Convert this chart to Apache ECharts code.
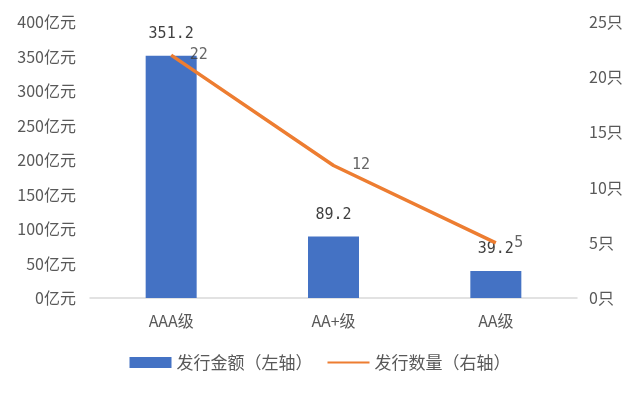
<!DOCTYPE html>
<html><head><meta charset="utf-8">
<script src="https://cdn.jsdelivr.net/npm/echarts@6/dist/echarts.min.js"></script>
<style>html,body{margin:0;padding:0;background:#fff}#c{width:640px;height:394px}</style>
</head><body><div id="c"></div>
<script>
const categories = ['AAA级', 'AA+级', 'AA级'];
const amountValues = [351.2, 89.2, 39.2];
const countValues = [22, 12, 5];
const leftTicks = [0, 400, 50];
const rightTicks = [0, 25, 5];

const chart = echarts.init(document.getElementById('c'), null, {renderer: 'canvas'});
const txt = '#595959';
const ff = 'Noto Sans CJK SC, sans-serif';
const mono = 'DejaVu Sans Mono, monospace';
chart.setOption({
  animation: false,
  textStyle: {fontFamily: ff},
  grid: {left: 90, right: 63, top: 22, bottom: 96, containLabel: false},
  legend: {
    bottom: 18, left: 'center', itemGap: 14,
    itemWidth: 42, itemHeight: 11,
    textStyle: {color: txt, fontSize: 17, fontFamily: ff},
    data: [{name: '发行金额（左轴）', icon: 'rect'},
           {name: '发行数量（右轴）', itemStyle: {opacity: 0}}]
  },
  xAxis: {
    type: 'category', data: categories,
    axisLine: {lineStyle: {color: '#d9d9d9', width: 1.5}},
    axisTick: {show: false},
    axisLabel: {color: txt, fontSize: 16, margin: 15}
  },
  yAxis: [{
    type: 'value', min: leftTicks[0], max: leftTicks[1], interval: leftTicks[2],
    splitLine: {show: false}, axisLine: {show: false}, axisTick: {show: false},
    axisLabel: {color: txt, fontSize: 16, margin: 14, formatter: v => v + '亿元'}
  }, {
    type: 'value', min: rightTicks[0], max: rightTicks[1], interval: rightTicks[2],
    splitLine: {show: false}, axisLine: {show: false}, axisTick: {show: false},
    axisLabel: {color: txt, fontSize: 16, margin: 12, formatter: v => v + '只'}
  }],
  series: [{
    name: '发行金额（左轴）', type: 'bar', data: amountValues, barWidth: 51,
    itemStyle: {color: '#4472C4'},
    label: {show: true, position: 'top', distance: 14, color: '#404040', fontSize: 15,
      fontFamily: mono, formatter: p => p.value.toFixed(1)}
  }, {
    name: '发行数量（右轴）', type: 'line', yAxisIndex: 1, data: countValues,
    symbol: 'none', lineStyle: {color: '#ED7D31', width: 3.5},
    itemStyle: {color: '#ED7D31'}
  }, {
    name: 'countLabels', type: 'scatter', yAxisIndex: 1, data: countValues,
    symbolSize: 1, itemStyle: {color: 'rgba(0,0,0,0)'}, silent: true,
    label: {show: true, position: 'right', distance: 18, color: '#404040', fontSize: 15,
      fontFamily: mono}
  }]
});
</script></body></html>
